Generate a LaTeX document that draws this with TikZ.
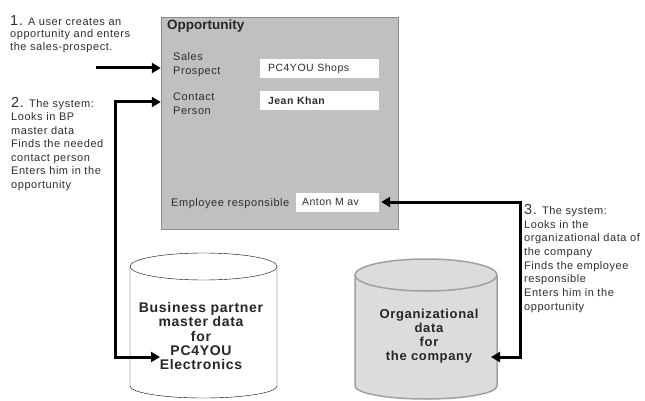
\documentclass[tikz,border=0pt]{standalone}
\usepackage{fontspec}
\setmainfont{Liberation Sans}
\newfontfamily\spaced[LetterSpace=5]{Liberation Sans}
\usepackage{tikz}
\usetikzlibrary{positioning,arrows.meta}
\definecolor{oppgray}{RGB}{192,192,192}
\definecolor{oppframe}{RGB}{140,140,140}
\definecolor{orgfill}{RGB}{220,220,220}
\definecolor{orgframe}{RGB}{160,160,160}
\definecolor{ink}{RGB}{45,45,45}
\newcommand{\stepno}[1]{{\fontsize{14.5}{14}\selectfont #1.}\hspace{5pt}}
\tikzset{
  note/.style={anchor=north west, align=left, inner sep=0pt, text=ink,
    font=\spaced\fontsize{11}{13.7}\selectfont},
  fieldlabel/.style={anchor=north west, align=left, inner sep=0pt, text=ink,
    font=\spaced\fontsize{11}{14}\selectfont},
  field/.style={fill=white, minimum height=19pt, text width=103pt, inner xsep=8pt,
    align=left, text=ink, font=\spaced\fontsize{10.5}{12}\selectfont},
  dbtext/.style={align=center, inner sep=0pt, text=black!85,
    font=\spaced\bfseries\fontsize{14}{14.3}\selectfont},
  conn/.style={line width=3pt, >={Triangle[length=9pt,width=10pt]}}
}

\begin{document}
\begin{tikzpicture}[x=1pt,y=-1pt]
\useasboundingbox (0,0) rectangle (645,401);
\draw(279.5,123) node[draw=oppframe, fill=oppgray, minimum width=237pt, minimum height=212pt] (opp) {};
\draw(167,30) node[anchor=base west, inner sep=0pt, text=black!85,
  font=\bfseries\fontsize{13.5}{14}\selectfont] (title) {Opportunity};
\draw(173,52) node[fieldlabel] (salesl) {Sales\\Prospect};
\draw(319.5,68.5) node[field] (pc) {PC4YOU Shops};
\draw(173,93) node[fieldlabel] (contactl) {Contact\\Person};
\draw(319.5,100.5) node[field, font=\spaced\bfseries\fontsize{10.5}{12}\selectfont] (jean) {Jean Khan};
\draw(171,198) node[fieldlabel] (empl) {Employee responsible};
\draw(337.5,202) node[field, text width=71pt, inner xsep=6pt] (anton) {Anton M av};

\draw(10,15) node[note, font=\spaced\fontsize{11}{12.5}\selectfont] (step1)
  {\stepno{1}A user creates an\\opportunity and enters\\the sales-prospect.};
\draw(11,97) node[note, font=\spaced\fontsize{11}{13.5}\selectfont] (step2)
  {\stepno{2}The system:\\Looks in BP\\master data\\Finds the needed\\contact person\\Enters him in the\\opportunity};
\draw(524,204) node[note] (step3)
  {\stepno{3}The system:\\Looks in the\\organizational data of\\the company\\Finds the employee\\responsible\\Enters him in the\\opportunity};

\draw[fill=white] (130,266.5) -- (130,386) arc[start angle=180, end angle=0, x radius=73.5, y radius=12]
  -- (277,266.5);
\draw[fill=white] (203.5,266.5) ellipse[x radius=73.5, y radius=13.5];
\draw[orgframe, line width=1.5pt, fill=orgfill] (355,275) -- (355,386)
  arc[start angle=180, end angle=0, x radius=71, y radius=13] -- (497,275);
\draw[orgframe, line width=1.5pt, fill=orgfill] (426,275) ellipse[x radius=71, y radius=16];

\draw(201,336) node[dbtext] (bp) {Business partner\\master data\\for\\PC4YOU\\Electronics};
\draw(429,336) node[dbtext, font=\spaced\bfseries\fontsize{13}{14}\selectfont] (org)
  {Organizational\\data\\for\\the company};

\coordinate (user) at (96,68);
\coordinate (bpin) at (160,357);
\coordinate (orgin) at (491,357);
\coordinate (c2) at (115,102);
\coordinate (c3) at (520,202);
\draw[conn,->] (user) -- (user -| opp.west);
\draw[conn,<->] (bpin) -- (bpin -| c2) -- (c2) -- (c2 -| opp.west);
\draw[conn,<->] ([xshift=2pt]anton.east) -- (c3) -- (c3 |- orgin) -- (orgin);
\end{tikzpicture}
\end{document}
